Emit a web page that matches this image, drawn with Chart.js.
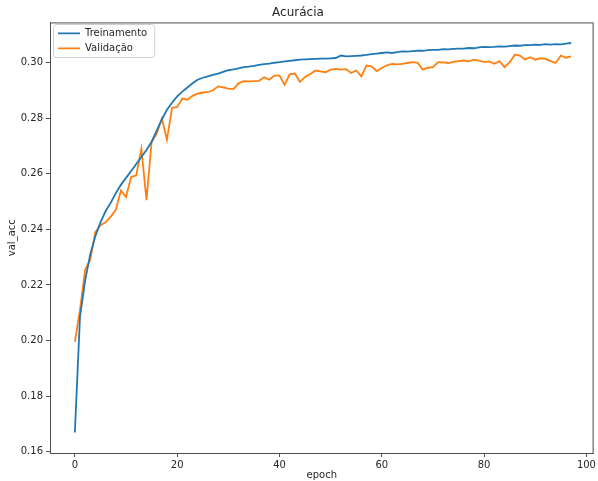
<!DOCTYPE html>
<html>
<head>
<meta charset="utf-8">
<script src="https://cdn.jsdelivr.net/npm/chart.js@4/dist/chart.umd.min.js"></script>
<style>
  html, body { margin: 0; padding: 0; background: #fff; }
  #wrap { width: 598px; height: 481px; }
</style>
</head>
<body>
<div id="wrap"><canvas id="chart" width="598" height="481"></canvas></div>
<script>
// valores
const epochs = [];
for (let i = 0; i < 98; i++) epochs.push(i);

const treino = [
  0.1670, 0.2085, 0.2215, 0.2310, 0.2375, 0.2425, 0.2465, 0.2495, 0.2530, 0.2560,
  0.2585, 0.2610, 0.2635, 0.2660, 0.2685, 0.2715, 0.2755, 0.2795, 0.2830, 0.2855,
  0.2878, 0.2895, 0.2910, 0.2925, 0.2938, 0.2945, 0.2950, 0.2955, 0.2960, 0.2966,
  0.2972, 0.2975, 0.2979, 0.2983, 0.2985, 0.2988, 0.2991, 0.2994, 0.2996, 0.2999,
  0.3001, 0.3004, 0.3006, 0.3008, 0.3010, 0.3011, 0.3012, 0.3013, 0.3014, 0.3014,
  0.3015, 0.3016, 0.3025, 0.3022, 0.3023, 0.3024, 0.3025, 0.3027, 0.3030, 0.3032,
  0.3034, 0.3036, 0.3034, 0.3037, 0.3040, 0.3039, 0.3041, 0.3042, 0.3042, 0.3044,
  0.3045, 0.3045, 0.3048, 0.3047, 0.3049, 0.3050, 0.3050, 0.3052, 0.3051, 0.3054,
  0.3056, 0.3055, 0.3056, 0.3058, 0.3057, 0.3059, 0.3061, 0.3060, 0.3062, 0.3062,
  0.3064, 0.3063, 0.3066, 0.3064, 0.3066, 0.3065, 0.3068, 0.3070
];

const validacao = [
  0.1996, 0.2110, 0.2255, 0.2290, 0.2390, 0.2415, 0.2425, 0.2445, 0.2470, 0.2540,
  0.2516, 0.2588, 0.2594, 0.2690, 0.2505, 0.2714, 0.2744, 0.2798, 0.2722, 0.2837,
  0.2840, 0.2870, 0.2866, 0.2880, 0.2888, 0.2892, 0.2893, 0.2900, 0.2914, 0.2910,
  0.2906, 0.2904, 0.2925, 0.2933, 0.2932, 0.2933, 0.2934, 0.2947, 0.2938, 0.2953,
  0.2953, 0.2920, 0.2957, 0.2960, 0.2930, 0.2948, 0.2958, 0.2971, 0.2968, 0.2965,
  0.2974, 0.2977, 0.2974, 0.2976, 0.2962, 0.2971, 0.2950, 0.2989, 0.2986, 0.2969,
  0.2980, 0.2990, 0.2995, 0.2993, 0.2995, 0.2998, 0.3001, 0.2999, 0.2974, 0.2981,
  0.2983, 0.3001, 0.3000, 0.2998, 0.3002, 0.3005, 0.3007, 0.3004, 0.3010, 0.3007,
  0.3001, 0.3004, 0.2995, 0.3005, 0.2983, 0.3001, 0.3028, 0.3025, 0.3011, 0.3019,
  0.3010, 0.3015, 0.3013, 0.3005, 0.2998, 0.3025, 0.3017, 0.3022
];

const xTicks = [0, 20, 40, 60, 80, 100];
const yTicks = [0.16, 0.18, 0.20, 0.22, 0.24, 0.26, 0.28, 0.30];

const FONT = "'DejaVu Sans', sans-serif";
const TXT = '#262626';
const EDGE = '#4d4d4d';
const LEG_PAD = 5;

Chart.defaults.font.family = FONT;
Chart.defaults.color = TXT;

// moldura do grafico e da legenda
const moldura = {
  id: 'moldura',
  afterUpdate(chart) {
    // legenda dentro da area do grafico, canto superior esquerdo
    const lg = chart.legend;
    const a = chart.chartArea;
    if (!lg) return;
    lg.left = a.left + 3;
    lg.right = a.right;
    lg.top = a.top + 1;
    lg.bottom = a.bottom;
    lg.height = a.bottom - a.top;
    lg.adjustHitBoxes();
  },
  beforeDatasetsDraw(chart) {
    const a = chart.chartArea;
    const ctx = chart.ctx;
    ctx.save();
    ctx.strokeStyle = EDGE;
    ctx.lineWidth = 1;
    ctx.strokeRect(a.left + 0.5, a.top + 0.5, a.right - a.left - 1, a.bottom - a.top);
    const lg = chart.legend;
    const hb = lg && lg.legendHitBoxes;
    if (hb && hb.length) {
      let w = 0, h = 0;
      hb.forEach(b => { w = Math.max(w, b.width); h += b.height; });
      h += LEG_PAD * (hb.length - 1);
      const x0 = lg.left + LEG_PAD - 5;
      const y0 = lg.top + LEG_PAD - 4;
      ctx.strokeStyle = '#d0d0d0';
      ctx.beginPath();
      ctx.roundRect(Math.round(x0) + 0.5, Math.round(y0) + 0.5, w + 12, h + 8, 3);
      ctx.stroke();
    }
    ctx.restore();
  }
};

new Chart(document.getElementById('chart'), {
  type: 'line',
  data: {
    datasets: [
      {
        label: 'Treinamento',
        data: epochs.map((e, i) => ({ x: e, y: treino[i] })),
        borderColor: '#1f77b4',
        backgroundColor: '#1f77b4',
        borderWidth: 1.8,
        pointRadius: 0,
        tension: 0
      },
      {
        label: 'Validação',
        data: epochs.map((e, i) => ({ x: e, y: validacao[i] })),
        borderColor: '#ff7f0e',
        backgroundColor: '#ff7f0e',
        borderWidth: 1.8,
        pointRadius: 0,
        tension: 0
      }
    ]
  },
  options: {
    responsive: false,
    animation: false,
    layout: { padding: { left: 0, right: 2, top: 0, bottom: 0 } },
    plugins: {
      title: {
        display: true,
        text: 'Acurácia',
        color: TXT,
        font: { family: FONT, size: 12, weight: 'normal' },
        padding: { top: 6, bottom: 2 }
      },
      legend: {
        position: 'chartArea',
        align: 'start',
        labels: {
          usePointStyle: true,
          pointStyle: 'line',
          pointStyleWidth: 22,
          padding: LEG_PAD,
          color: TXT,
          font: { family: FONT, size: 10 }
        }
      },
      tooltip: { enabled: false }
    },
    scales: {
      x: {
        type: 'linear',
        min: -4.86,
        max: 101.4,
        afterFit(s) { s.height = 28; },
        afterBuildTicks(s) { s.ticks = xTicks.map(v => ({ value: v })); },
        ticks: {
          color: TXT,
          font: { family: FONT, size: 10 },
          padding: 2,
          maxRotation: 0,
          autoSkip: false
        },
        grid: { display: true, drawOnChartArea: false, drawTicks: true, tickLength: 4, tickColor: EDGE },
        border: { display: true, color: EDGE },
        title: {
          display: true,
          text: 'epoch',
          color: TXT,
          font: { family: FONT, size: 10 },
          padding: { top: 0, bottom: 0 }
        }
      },
      y: {
        type: 'linear',
        min: 0.1596,
        max: 0.3144,
        afterFit(s) { s.width = 50; },
        afterBuildTicks(s) { s.ticks = yTicks.map(v => ({ value: v })); },
        ticks: {
          color: TXT,
          font: { family: FONT, size: 10 },
          padding: 3,
          autoSkip: false,
          callback: v => Number(v).toFixed(2)
        },
        grid: { display: true, drawOnChartArea: false, drawTicks: true, tickLength: 4, tickColor: EDGE },
        border: { display: true, color: EDGE },
        title: {
          display: true,
          text: 'val_acc',
          color: TXT,
          font: { family: FONT, size: 10 },
          padding: { top: 6, bottom: 0 }
        }
      }
    }
  },
  plugins: [moldura]
});
</script>
</body>
</html>
